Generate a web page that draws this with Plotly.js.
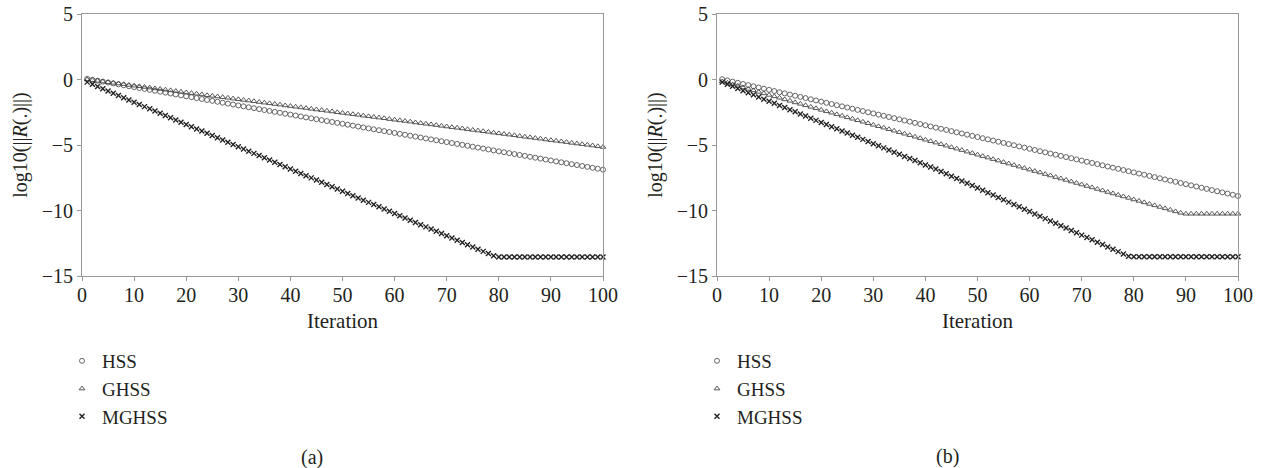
<!DOCTYPE html>
<html>
<head>
<meta charset="utf-8">
<script src="https://cdn.plot.ly/plotly-3.0.1.min.js"></script>
<style>html,body{margin:0;padding:0;background:#fff;}#chart{width:1261px;height:468px;}</style>
</head>
<body>
<div id="chart"></div>
<script>
// Iteration index 1..100
const iterations = Array.from({length: 100}, (_, i) => i + 1);
const seriesNames = ["HSS", "GHSS", "MGHSS"];
const xTickVals = [0, 10, 20, 30, 40, 50, 60, 70, 80, 90, 100];
const yTickVals = [-15, -10, -5, 0, 5];
const panelLabels = ["(a)", "(b)"];

// Panel (a)
const hssA = [
  0.05,-0.02,-0.09,-0.16,-0.23,-0.30,-0.37,-0.44,-0.51,-0.58,
  -0.65,-0.72,-0.79,-0.86,-0.93,-1.00,-1.07,-1.14,-1.21,-1.28,
  -1.35,-1.42,-1.49,-1.56,-1.63,-1.70,-1.77,-1.84,-1.91,-1.98,
  -2.05,-2.12,-2.19,-2.26,-2.33,-2.40,-2.47,-2.54,-2.61,-2.68,
  -2.75,-2.82,-2.89,-2.96,-3.03,-3.10,-3.17,-3.24,-3.31,-3.38,
  -3.45,-3.52,-3.59,-3.66,-3.73,-3.80,-3.87,-3.94,-4.01,-4.08,
  -4.15,-4.22,-4.29,-4.36,-4.43,-4.50,-4.57,-4.64,-4.71,-4.78,
  -4.85,-4.92,-4.99,-5.06,-5.13,-5.20,-5.27,-5.34,-5.41,-5.48,
  -5.55,-5.62,-5.69,-5.76,-5.83,-5.90,-5.97,-6.04,-6.11,-6.18,
  -6.25,-6.32,-6.39,-6.46,-6.53,-6.60,-6.67,-6.74,-6.81,-6.88
];
const ghssA = [
  0.00,-0.05,-0.10,-0.16,-0.21,-0.26,-0.31,-0.36,-0.42,-0.47,
  -0.52,-0.57,-0.62,-0.68,-0.73,-0.78,-0.83,-0.88,-0.94,-0.99,
  -1.04,-1.09,-1.14,-1.20,-1.25,-1.30,-1.35,-1.40,-1.46,-1.51,
  -1.56,-1.61,-1.66,-1.72,-1.77,-1.82,-1.87,-1.92,-1.98,-2.03,
  -2.08,-2.13,-2.18,-2.24,-2.29,-2.34,-2.39,-2.44,-2.50,-2.55,
  -2.60,-2.65,-2.70,-2.76,-2.81,-2.86,-2.91,-2.96,-3.02,-3.07,
  -3.12,-3.17,-3.22,-3.28,-3.33,-3.38,-3.43,-3.48,-3.54,-3.59,
  -3.64,-3.69,-3.74,-3.80,-3.85,-3.90,-3.95,-4.00,-4.06,-4.11,
  -4.16,-4.21,-4.26,-4.32,-4.37,-4.42,-4.47,-4.52,-4.58,-4.63,
  -4.68,-4.73,-4.78,-4.84,-4.89,-4.94,-4.99,-5.04,-5.10,-5.15
];
const mghssA = [
  -0.20,-0.37,-0.54,-0.71,-0.88,-1.05,-1.22,-1.39,-1.56,-1.73,
  -1.90,-2.07,-2.24,-2.41,-2.58,-2.75,-2.92,-3.09,-3.26,-3.43,
  -3.60,-3.77,-3.94,-4.11,-4.28,-4.45,-4.62,-4.79,-4.96,-5.13,
  -5.30,-5.47,-5.64,-5.81,-5.98,-6.15,-6.32,-6.49,-6.66,-6.83,
  -7.00,-7.17,-7.34,-7.51,-7.68,-7.85,-8.02,-8.19,-8.36,-8.53,
  -8.70,-8.87,-9.04,-9.21,-9.38,-9.55,-9.72,-9.89,-10.06,-10.23,
  -10.40,-10.57,-10.74,-10.91,-11.08,-11.25,-11.42,-11.59,-11.76,-11.93,
  -12.10,-12.27,-12.44,-12.61,-12.78,-12.95,-13.12,-13.29,-13.46,-13.55,
  -13.55,-13.55,-13.55,-13.55,-13.55,-13.55,-13.55,-13.55,-13.55,-13.55,
  -13.55,-13.55,-13.55,-13.55,-13.55,-13.55,-13.55,-13.55,-13.55,-13.55
];

// Panel (b)
const hssB = [
  0.02,-0.07,-0.16,-0.25,-0.34,-0.43,-0.52,-0.61,-0.70,-0.79,
  -0.88,-0.97,-1.06,-1.15,-1.24,-1.33,-1.42,-1.51,-1.60,-1.69,
  -1.78,-1.87,-1.96,-2.05,-2.14,-2.23,-2.32,-2.41,-2.50,-2.59,
  -2.68,-2.77,-2.86,-2.95,-3.04,-3.13,-3.22,-3.31,-3.40,-3.49,
  -3.58,-3.67,-3.76,-3.85,-3.94,-4.03,-4.12,-4.21,-4.30,-4.39,
  -4.48,-4.57,-4.66,-4.75,-4.84,-4.93,-5.02,-5.11,-5.20,-5.29,
  -5.38,-5.47,-5.56,-5.65,-5.74,-5.83,-5.92,-6.01,-6.10,-6.19,
  -6.28,-6.37,-6.46,-6.55,-6.64,-6.73,-6.82,-6.91,-7.00,-7.09,
  -7.18,-7.27,-7.36,-7.45,-7.54,-7.63,-7.72,-7.81,-7.90,-7.99,
  -8.08,-8.17,-8.26,-8.35,-8.44,-8.53,-8.62,-8.71,-8.80,-8.89
];
const ghssB = [
  -0.15,-0.26,-0.38,-0.49,-0.61,-0.72,-0.83,-0.95,-1.06,-1.18,
  -1.29,-1.40,-1.52,-1.63,-1.75,-1.86,-1.97,-2.09,-2.20,-2.32,
  -2.43,-2.54,-2.66,-2.77,-2.89,-3.00,-3.11,-3.23,-3.34,-3.46,
  -3.57,-3.68,-3.80,-3.91,-4.03,-4.14,-4.25,-4.37,-4.48,-4.60,
  -4.71,-4.82,-4.94,-5.05,-5.17,-5.28,-5.39,-5.51,-5.62,-5.74,
  -5.85,-5.96,-6.08,-6.19,-6.31,-6.42,-6.53,-6.65,-6.76,-6.88,
  -6.99,-7.10,-7.22,-7.33,-7.45,-7.56,-7.67,-7.79,-7.90,-8.02,
  -8.13,-8.24,-8.36,-8.47,-8.59,-8.70,-8.81,-8.93,-9.04,-9.16,
  -9.27,-9.38,-9.50,-9.61,-9.73,-9.84,-9.95,-10.07,-10.18,-10.25,
  -10.25,-10.25,-10.25,-10.25,-10.25,-10.25,-10.25,-10.25,-10.25,-10.25
];
const mghssB = [
  -0.20,-0.36,-0.52,-0.69,-0.85,-1.01,-1.17,-1.33,-1.50,-1.66,
  -1.82,-1.98,-2.14,-2.31,-2.47,-2.63,-2.79,-2.95,-3.12,-3.28,
  -3.44,-3.60,-3.76,-3.93,-4.09,-4.25,-4.41,-4.57,-4.74,-4.90,
  -5.06,-5.22,-5.38,-5.55,-5.71,-5.87,-6.03,-6.19,-6.36,-6.52,
  -6.68,-6.84,-7.02,-7.20,-7.38,-7.56,-7.74,-7.92,-8.10,-8.28,
  -8.46,-8.64,-8.82,-9.00,-9.18,-9.36,-9.54,-9.72,-9.90,-10.08,
  -10.26,-10.44,-10.62,-10.80,-10.98,-11.16,-11.34,-11.52,-11.70,-11.88,
  -12.06,-12.24,-12.42,-12.60,-12.78,-12.96,-13.14,-13.32,-13.50,-13.53,
  -13.53,-13.53,-13.53,-13.53,-13.53,-13.53,-13.53,-13.53,-13.53,-13.53,
  -13.53,-13.53,-13.53,-13.53,-13.53,-13.53,-13.53,-13.53,-13.53,-13.53
];

const FONT = "Liberation Serif";
const TXT = "#231f20";
const markerStyles = [
  {symbol: "circle-open", size: 5, color: "#555", line: {width: 0.9, color: "#555"}},
  {symbol: "triangle-up-open", size: 5, color: "#444", line: {width: 0.9, color: "#444"}},
  {symbol: "x-thin-open", size: 5, color: "#222", line: {width: 1.4, color: "#222"}}
];

function mk(y, i, xa, ya, leg) {
  return {
    x: iterations, y: y, type: "scatter", mode: "markers",
    name: seriesNames[i], marker: markerStyles[i],
    xaxis: xa, yaxis: ya, legend: leg, cliponaxis: false
  };
}
const data = [
  mk(hssA, 0, "x", "y", "legend"), mk(ghssA, 1, "x", "y", "legend"), mk(mghssA, 2, "x", "y", "legend"),
  mk(hssB, 0, "x2", "y2", "legend2"), mk(ghssB, 1, "x2", "y2", "legend2"), mk(mghssB, 2, "x2", "y2", "legend2")
];

const W = 1261, H = 468;
function xAxis(d) {
  return {
    domain: d, range: [0, 100], tickvals: xTickVals, ticks: "outside", ticklen: 4,
    tickcolor: "#999", showline: true, mirror: true, linecolor: "#999", linewidth: 1,
    showgrid: false, zeroline: false, tickfont: {family: FONT, size: 20, color: TXT},
    ticklabelstandoff: -3,
    title: {text: "Iteration", font: {family: FONT, size: 21, color: TXT}, standoff: 8},
    fixedrange: true
  };
}
function yAxis(anchor) {
  return {
    domain: [1 - 276 / H, 1 - 14 / H], range: [-15, 5], tickvals: yTickVals, ticks: "outside",
    ticklen: 4, tickcolor: "#999", showline: true, mirror: true, linecolor: "#999", linewidth: 1,
    showgrid: false, zeroline: false, tickfont: {family: FONT, size: 20, color: TXT},
    title: {text: "log10(||<i>R</i>(.)||)", font: {family: FONT, size: 20, color: TXT}, standoff: 8},
    anchor: anchor, fixedrange: true
  };
}
const legendBase = {
  orientation: "v", yanchor: "top", xanchor: "left", bgcolor: "rgba(0,0,0,0)",
  borderwidth: 0, font: {family: FONT, size: 19, color: TXT}, tracegroupgap: 0, itemclick: false
};

const layout = {
  width: W, height: H, margin: {l: 0, r: 0, t: 0, b: 0},
  paper_bgcolor: "#fff", plot_bgcolor: "#fff",
  font: {family: FONT, color: TXT},
  xaxis: Object.assign(xAxis([82 / W, 603 / W]), {anchor: "y"}),
  yaxis: yAxis("x"),
  xaxis2: Object.assign(xAxis([717 / W, 1238 / W]), {anchor: "y2"}),
  yaxis2: yAxis("x2"),
  showlegend: true,
  legend: Object.assign({}, legendBase, {x: 62 / W, y: 1 - 342 / H}),
  legend2: Object.assign({}, legendBase, {x: 697 / W, y: 1 - 342 / H}),
  annotations: [
    {text: panelLabels[0], x: 312 / W, y: 1 - 457 / H, xref: "paper", yref: "paper", showarrow: false,
     font: {family: FONT, size: 20, color: TXT}, xanchor: "center", yanchor: "middle"},
    {text: panelLabels[1], x: 947 / W, y: 1 - 456 / H, xref: "paper", yref: "paper", showarrow: false,
     font: {family: FONT, size: 20, color: TXT}, xanchor: "center", yanchor: "middle"}
  ]
};

Plotly.newPlot("chart", data, layout, {displayModeBar: false, staticPlot: true});
</script>
</body>
</html>
